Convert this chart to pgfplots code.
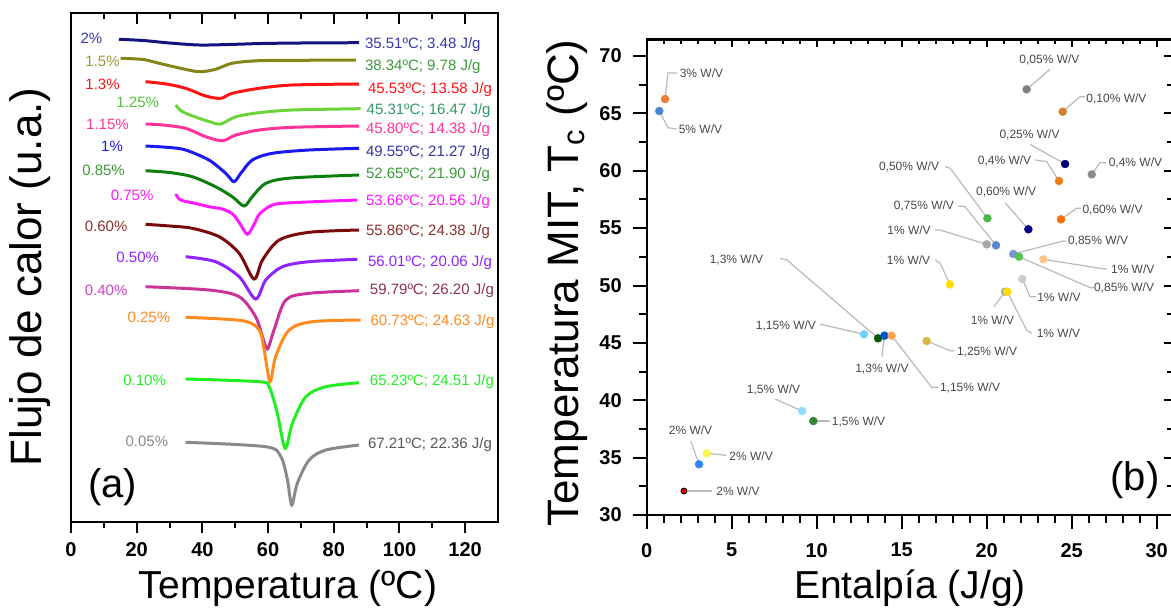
\documentclass[border=0pt]{standalone}
\usepackage{fontspec}
\setmainfont{Liberation Sans}
\usepackage{pgfplots}
\pgfplotsset{compat=1.18}

% panel (a) colours
\definecolor{aNavy}{HTML}{14147E}
\definecolor{aNavyL}{HTML}{3838B0}
\definecolor{aOlive}{HTML}{85851A}
\definecolor{aOliveL}{HTML}{9A9A30}
\definecolor{aGreenT}{HTML}{3A9A3A}
\definecolor{aRed}{HTML}{FF1414}
\definecolor{aLime}{HTML}{6AD43A}
\definecolor{aLimeL}{HTML}{55C03A}
\definecolor{aTeal}{HTML}{33996A}
\definecolor{aPink}{HTML}{FF3399}
\definecolor{aBlue}{HTML}{1A1AEE}
\definecolor{aBlueT}{HTML}{3535A0}
\definecolor{aDkGreen}{HTML}{0E7E0E}
\definecolor{aMag}{HTML}{FF1AFF}
\definecolor{aMaroon}{HTML}{7A0A0A}
\definecolor{aMaroonL}{HTML}{8A3030}
\definecolor{aPurple}{HTML}{9022FF}
\definecolor{aOrchid}{HTML}{CC3399}
\definecolor{aOrchidL}{HTML}{CC44BB}
\definecolor{aWine}{HTML}{8A3055}
\definecolor{aOrange}{HTML}{FF8A1F}
\definecolor{aBright}{HTML}{22EE22}
\definecolor{aGray}{HTML}{8A8A8A}
\definecolor{aGrayT}{HTML}{555555}
% panel (b) colours
\definecolor{bOr}{HTML}{ED7D31}
\definecolor{bBl}{HTML}{4A86CF}

\tikzset{
  curve/.style={smooth, tension=0.5, line width=1.5pt, color=#1},
  llab/.style={font=\fontsize{7.5}{8}\selectfont, text=#1, inner sep=0pt},
  rlab/.style={font=\fontsize{7.5}{8}\selectfont, text=#1, inner sep=0pt, anchor=west},
  lead/.style={draw=gray!55, line width=0.6pt},
  wv/.style={font=\fontsize{6}{7}\selectfont, text=black!72, inner sep=0pt},
}
\pgfplotsset{
  pt/.style={only marks, mark=*, mark size=2pt,
             mark options={draw=#1, line width=0.2pt, fill=#1}},
  ticknum/.style={
    tick label style={font=\bfseries\fontsize{10}{10}\selectfont},
    tick style={black, line width=1pt},
    axis line style={line width=1.2pt},
  },
}

\begin{document}
\begin{tikzpicture}
\useasboundingbox (0,0) rectangle (585.5pt,-307pt);

%% ---------- panel (a): DSC curves ----------
\begin{axis}[
  at={(35.5pt,-6.5pt)}, anchor=north west,
  scale only axis, width=213.5pt, height=254.5pt,
  xmin=0, xmax=130, ymin=13, ymax=522, y dir=reverse,
  xtick={0,20,...,120}, minor x tick num=1, ytick=\empty,
  xticklabels={\textbf{0},\textbf{20},\textbf{40},\textbf{60},\textbf{80},\textbf{100},\textbf{120}},
  xtick pos=left, tick align=outside,
  major tick length=5.5pt, minor tick length=3pt,
  ticknum, xticklabel style={yshift=-1pt},
  clip=false,
]
\addplot[curve=aNavy] coordinates {(14.6,39.3) (22,40.5) (30,43) (39,45) (48,44.5) (58,43.5) (70,43) (87.7,42.7)};
\addplot[curve=aOlive] coordinates {(15.1,58.3) (22,59.5) (26.8,63.3) (33,68) (39,71.7) (44,69.3) (49,63.3) (57,60.7) (70,60.3) (86.7,60)};
\addplot[curve=aRed] coordinates {(22.7,81.7) (29,84) (34.9,88.3) (41,96) (45.6,98.3) (49.1,93.3) (57.3,88.3) (67.4,85) (87.7,84)};
\addplot[curve=aLime] coordinates {(31.9,105) (33.9,111.7) (39,118.3) (42.5,122) (45.6,124) (50.2,116.7) (57.3,112.7) (67.4,110) (88.2,108.7)};
\addplot[curve=aPink] coordinates {(22.7,124) (28,125) (34.9,128.3) (41,136.7) (46.1,140.7) (50.2,135) (57.3,130) (67.4,127.3) (87.7,126)};
\addplot[curve=aBlue] coordinates {(22.7,146) (30,147.5) (34.9,150) (42,160) (47.1,173.3) (49.6,181.7) (51.7,173.3) (55.2,160) (61.3,153.3) (72.5,150) (87.7,148.3)};
\addplot[curve=aDkGreen] coordinates {(22.7,170.7) (30,172.5) (36.9,176.7) (44,186.7) (49.1,196.7) (52.7,206) (55.2,196.7) (59.3,183.3) (67,178) (87.7,175)};
\addplot[curve=aMag] coordinates {(31.9,194) (33.4,200) (38,203.5) (42,206.7) (46,209) (49.2,214) (51.5,224) (53.7,234.3) (55.8,224) (57.4,214) (61.3,205) (67.4,202.7) (87.2,200)};
\addplot[curve=aMaroon] coordinates {(22.7,224.3) (30,226) (36.9,228.3) (45.1,236.7) (51.2,253.3) (55.7,279) (58.3,260) (63.4,240) (72.5,232.3) (87.7,230)};
\addplot[curve=aPurple] coordinates {(34.9,256.7) (44,261.7) (51.2,276.7) (56.2,299) (59.3,280) (64.4,266.7) (72.5,261.7) (87.2,259.3)};
\addplot[curve=aOrchid] coordinates {(22.7,286.7) (42,290) (51.2,296.7) (56.2,316.7) (58.3,336.7) (59.8,349) (61.8,330) (65.4,300) (72.5,293.3) (87.7,290.7)};
\addplot[curve=aOrange] coordinates {(34.9,317.3) (52.2,320.7) (57.3,330) (58.8,350) (60.6,381.7) (62.3,356.7) (66.4,330) (73.5,321.7) (88.2,320)};
\addplot[curve=aBright] coordinates {(34.9,379) (57.3,381.7) (60.3,386.7) (62.8,413.3) (65.2,448.3) (67.4,423.3) (71.5,396.7) (77.6,386.7) (87.7,382.7)};
\addplot[curve=aGray] coordinates {(34.9,442.3) (59.3,446.7) (63.9,456.7) (65.9,480) (67.2,505) (68.9,483.3) (72.5,460) (77.6,450) (87.7,445)};

\node[llab=aNavyL]   at (axis cs:6.2,38.3)   {2\%};
\node[llab=aOliveL]  at (axis cs:9.6,61.7)   {1.5\%};
\node[llab=aRed]     at (axis cs:9.6,84)     {1.3\%};
\node[llab=aLimeL]   at (axis cs:20.3,102.7) {1.25\%};
\node[llab=aPink]    at (axis cs:11.1,124)   {1.15\%};
\node[llab=aBlue]    at (axis cs:12.5,146)   {1\%};
\node[llab=aGreenT]  at (axis cs:9.9,170.7)  {0.85\%};
\node[llab=aMag]     at (axis cs:18.6,195)   {0.75\%};
\node[llab=aMaroonL] at (axis cs:10.7,226)   {0.60\%};
\node[llab=aPurple]  at (axis cs:20.3,257.3) {0.50\%};
\node[llab=aOrchidL] at (axis cs:10.7,290.7) {0.40\%};
\node[llab=aOrange]  at (axis cs:23.7,317.3) {0.25\%};
\node[llab=aBright]  at (axis cs:22.4,380)   {0.10\%};
\node[llab=aGray]    at (axis cs:23.1,441)   {0.05\%};

\node[rlab=aNavyL]   at (axis cs:89.4,45)    {35.51ºC; 3.48 J/g};
\node[rlab=aGreenT]  at (axis cs:89.4,66.7)  {38.34ºC; 9.78 J/g};
\node[rlab=aRed]     at (axis cs:90.3,90)    {45.53ºC; 13.58 J/g};
\node[rlab=aTeal]    at (axis cs:89.9,110.7) {45.31ºC; 16.47 J/g};
\node[rlab=aPink]    at (axis cs:89.7,130)   {45.80ºC; 14.38 J/g};
\node[rlab=aBlueT]   at (axis cs:89.7,152.7) {49.55ºC; 21.27 J/g};
\node[rlab=aGreenT]  at (axis cs:89.7,175)   {52.65ºC; 21.90 J/g};
\node[rlab=aMag]     at (axis cs:89.7,201.7) {53.66ºC; 20.56 J/g};
\node[rlab=aMaroonL] at (axis cs:89.7,231.7) {55.86ºC; 24.38 J/g};
\node[rlab=aPurple]  at (axis cs:90.3,262.7) {56.01ºC; 20.06 J/g};
\node[rlab=aWine]    at (axis cs:90.9,290.7) {59.79ºC; 26.20 J/g};
\node[rlab=aOrange]  at (axis cs:91.1,321.7) {60.73ºC; 24.63 J/g};
\node[rlab=aBright]  at (axis cs:90.9,381.7) {65.23ºC; 24.51 J/g};
\node[rlab=aGrayT]   at (axis cs:90.3,444.3) {67.21ºC; 22.36 J/g};
\end{axis}
% top ticks of (a), pointing in
\begin{axis}[
  at={(35.5pt,-6.5pt)}, anchor=north west,
  scale only axis, width=213.5pt, height=254.5pt,
  xmin=0, xmax=130, ymin=13, ymax=522,
  xtick={0,20,...,120}, minor x tick num=1, ytick=\empty,
  xtick pos=right, tick align=inside, xticklabels={},
  major tick length=5.5pt, minor tick length=3pt,
  tick style={black, line width=1pt}, axis line style={draw=none},
]
\end{axis}

%% ---------- panel (b): Tc against enthalpy ----------
\begin{axis}[
  at={(323.35pt,-19.75pt)}, anchor=north west,
  scale only axis, width=262.65pt, height=237.75pt,
  xmin=0, xmax=30.9, ymin=30, ymax=71.44,
  xtick={0,5,...,30}, ytick={30,35,...,70},
  xticklabels={\textbf{0},\textbf{5},\textbf{10},\textbf{15},\textbf{20},\textbf{25},\textbf{30}},
  yticklabels={\textbf{30},\textbf{35},\textbf{40},\textbf{45},\textbf{50},\textbf{55},\textbf{60},\textbf{65},\textbf{70}},
  minor x tick num=4, minor y tick num=1,
  xtick pos=left, ytick pos=left, tick align=outside,
  major tick length=7pt, minor tick length=4pt,
  ticknum, xticklabel style={yshift=-3.5pt}, yticklabel style={xshift=-2pt},
  clip=false,
]
% leader lines
\draw[lead] (axis cs:1.08,66.25) -- (axis cs:1.25,68.52) -- (axis cs:1.78,68.52);
\draw[lead] (axis cs:0.74,65.21) -- (axis cs:1.25,63.75) -- (axis cs:1.75,63.64);
\draw[lead] (axis cs:22.35,67.10) -- (axis cs:23.72,68.84);
\draw[lead] (axis cs:24.47,65.15) -- (axis cs:25.49,66.45) -- (axis cs:25.78,66.45);
\draw[lead] (axis cs:22.55,62.30) -- (axis cs:24.61,60.59);
\draw[lead] (axis cs:22.84,60.94) -- (axis cs:23.53,60.8) -- (axis cs:24.25,59.11);
\draw[lead] (axis cs:26.18,59.69) -- (axis cs:26.66,60.7) -- (axis cs:27.02,60.7);
\draw[lead] (axis cs:17.55,60.35) -- (axis cs:17.84,60.24) -- (axis cs:20.04,55.86);
\draw[lead] (axis cs:21.08,57.22) -- (axis cs:22.45,54.90);
\draw[lead] (axis cs:24.37,55.77) -- (axis cs:25.29,56.73) -- (axis cs:25.55,56.73);
\draw[lead] (axis cs:18.31,56.95) -- (axis cs:18.72,56.87) -- (axis cs:20.55,53.50);
\draw[lead] (axis cs:16.96,54.84) -- (axis cs:17.25,54.84) -- (axis cs:20.0,53.59);
\draw[lead] (axis cs:21.56,52.75) -- (axis cs:24.49,53.88) -- (axis cs:24.67,53.88);
\draw[lead] (axis cs:23.33,52.28) -- (axis cs:27.06,51.41);
\draw[lead] (axis cs:21.9,52.51) -- (axis cs:26.08,49.81) -- (axis cs:26.3,49.81);
\draw[lead] (axis cs:16.96,52.22) -- (axis cs:17.25,51.96) -- (axis cs:17.84,50.10);
\draw[lead] (axis cs:22.09,50.57) -- (axis cs:22.55,49.02) -- (axis cs:22.9,49.02);
\draw[lead] (axis cs:20.43,48.15) -- (axis cs:21.08,49.46);
\draw[lead] (axis cs:21.21,49.46) -- (axis cs:22.35,46.12) -- (axis cs:22.65,45.83);
\draw[lead] (axis cs:7.84,52.37) -- (axis cs:8.25,52.22) -- (axis cs:13.61,45.40);
\draw[lead] (axis cs:10.19,46.64) -- (axis cs:12.78,45.75);
\draw[lead] (axis cs:13.84,43.80) -- (axis cs:13.98,45.63);
\draw[lead] (axis cs:14.41,45.63) -- (axis cs:16.76,41.13) -- (axis cs:17.14,41.13);
\draw[lead] (axis cs:16.47,45.16) -- (axis cs:17.84,44.32) -- (axis cs:18.1,44.32);
\draw[lead] (axis cs:7.55,40.11) -- (axis cs:9.14,39.06);
\draw[lead] (axis cs:9.8,38.19) -- (axis cs:10.78,38.19);
\draw[lead] (axis cs:2.59,36.45) -- (axis cs:3.08,34.42);
\draw[lead] (axis cs:3.53,35.38) -- (axis cs:4.66,35.2);
\draw[lead] (axis cs:2.19,32.09) -- (axis cs:3.84,32.09);

% data points
\addplot[pt=bOr] coordinates {(1.08,66.25)};
\addplot[pt=bBl] coordinates {(0.74,65.21)};
\addplot[pt=gray] coordinates {(22.35,67.10)};
\addplot[pt=brown!70!orange] coordinates {(24.47,65.15)};
\addplot[pt=blue!45!black] coordinates {(24.61,60.59)};
\addplot[pt=orange!70!brown] coordinates {(24.25,59.11)};
\addplot[pt=gray!90] coordinates {(26.18,59.69)};
\addplot[pt=green!45!gray] coordinates {(20.04,55.86)};
\addplot[pt=blue!55!black] coordinates {(22.45,54.90)};
\addplot[pt=orange!85!red] coordinates {(24.37,55.77)};
\addplot[pt=cyan!45!blue!70] coordinates {(20.55,53.50)};
\addplot[pt=gray!70] coordinates {(20.0,53.59)};
\addplot[pt=cyan!40!blue!55] coordinates {(21.56,52.75)};
\addplot[pt=green!50!gray!90] coordinates {(21.9,52.51)};
\addplot[pt=orange!45] coordinates {(23.33,52.28)};
\addplot[pt=yellow!80!orange] coordinates {(17.84,50.10)};
\addplot[pt=gray!40] coordinates {(22.09,50.57)};
\addplot[pt=gray!70] coordinates {(21.08,49.46)};
\addplot[pt=yellow!80!orange] coordinates {(21.21,49.46)};
\addplot[pt=blue!35!cyan!55] coordinates {(12.78,45.75)};
\addplot[pt=green!35!black] coordinates {(13.61,45.40)};
\addplot[pt=blue!60!cyan!80!black] coordinates {(13.98,45.63)};
\addplot[pt=orange!70] coordinates {(14.41,45.63)};
\addplot[pt=yellow!40!brown] coordinates {(16.47,45.16)};
\addplot[pt=blue!30!cyan!45] coordinates {(9.14,39.06)};
\addplot[pt=green!40!black!80] coordinates {(9.8,38.19)};
\addplot[pt=blue!60!cyan!80] coordinates {(3.08,34.42)};
\addplot[pt=yellow!70] coordinates {(3.53,35.38)};
\addplot[only marks, mark=*, mark size=1.5pt, mark options={draw=none, fill=red!90!black}] coordinates {(2.19,32.09)};

% labels
\node[wv] at (axis cs:3.22,68.52)  {3\% W/V};
\node[wv] at (axis cs:3.16,63.64)  {5\% W/V};
\node[wv] at (axis cs:23.69,69.65) {0,05\% W/V};
\node[wv] at (axis cs:27.63,66.23) {0,10\% W/V};
\node[wv] at (axis cs:22.52,63.12) {0,25\% W/V};
\node[wv] at (axis cs:21.05,60.85) {0,4\% W/V};
\node[wv] at (axis cs:28.75,60.70) {0,4\% W/V};
\node[wv] at (axis cs:15.43,60.35) {0,50\% W/V};
\node[wv] at (axis cs:21.14,58.15) {0,60\% W/V};
\node[wv] at (axis cs:27.4,56.58)  {0,60\% W/V};
\node[wv] at (axis cs:16.31,56.95) {0,75\% W/V};
\node[wv] at (axis cs:15.43,54.84) {1\% W/V};
\node[wv] at (axis cs:26.55,53.88) {0,85\% W/V};
\node[wv] at (axis cs:28.59,51.41) {1\% W/V};
\node[wv] at (axis cs:28.08,49.81) {0,85\% W/V};
\node[wv] at (axis cs:15.4,52.22)  {1\% W/V};
\node[wv] at (axis cs:24.25,49.02) {1\% W/V};
\node[wv] at (axis cs:20.34,46.99) {1\% W/V};
\node[wv] at (axis cs:24.22,45.86) {1\% W/V};
\node[wv] at (axis cs:5.28,52.22)  {1,3\% W/V};
\node[wv] at (axis cs:8.19,46.5)   {1,15\% W/V};
\node[wv] at (axis cs:13.84,42.72) {1,3\% W/V};
\node[wv] at (axis cs:19.02,41.07) {1,15\% W/V};
\node[wv] at (axis cs:20.02,44.23) {1,25\% W/V};
\node[wv] at (axis cs:7.46,40.89)  {1,5\% W/V};
\node[wv] at (axis cs:12.46,38.13) {1,5\% W/V};
\node[wv] at (axis cs:2.58,37.35)  {2\% W/V};
\node[wv] at (axis cs:6.14,35.08)  {2\% W/V};
\node[wv] at (axis cs:5.37,32.09)  {2\% W/V};
\end{axis}
% top and right ticks of (b), pointing in
\begin{axis}[
  at={(323.35pt,-19.75pt)}, anchor=north west,
  scale only axis, width=262.65pt, height=237.75pt,
  xmin=0, xmax=30.9, ymin=30, ymax=71.44,
  xtick={0,5,...,30}, ytick={30,35,...,70},
  minor x tick num=4, minor y tick num=1,
  xtick pos=right, ytick pos=right, tick align=inside,
  xticklabels={}, yticklabels={},
  major tick length=4pt, minor tick length=2.5pt,
  tick style={black, line width=1pt}, axis line style={draw=none},
]
\end{axis}

%% axis titles and panel letters, placed in pixels of the picture
\begin{scope}[x=0.5pt, y=-0.5pt]
\node[font=\fontsize{19.5}{20}\selectfont] at (288,588) {Temperatura (ºC)};
\node[font=\fontsize{19.5}{20}\selectfont] at (910,588) {Entalpía (J/g)};
\node[font=\fontsize{22}{22}\selectfont, rotate=90] at (30,277) {Flujo de calor (u.a.)};
\node[font=\fontsize{22}{22}\selectfont, rotate=90] at (567,283) {Temperatura MIT, T\textsubscript{c} (ºC)};
\node[font=\fontsize{20}{20}\selectfont] at (112.5,487) {(a)};
\node[font=\fontsize{20}{20}\selectfont] at (1135,480) {(b)};
\end{scope}
\end{tikzpicture}
\end{document}
